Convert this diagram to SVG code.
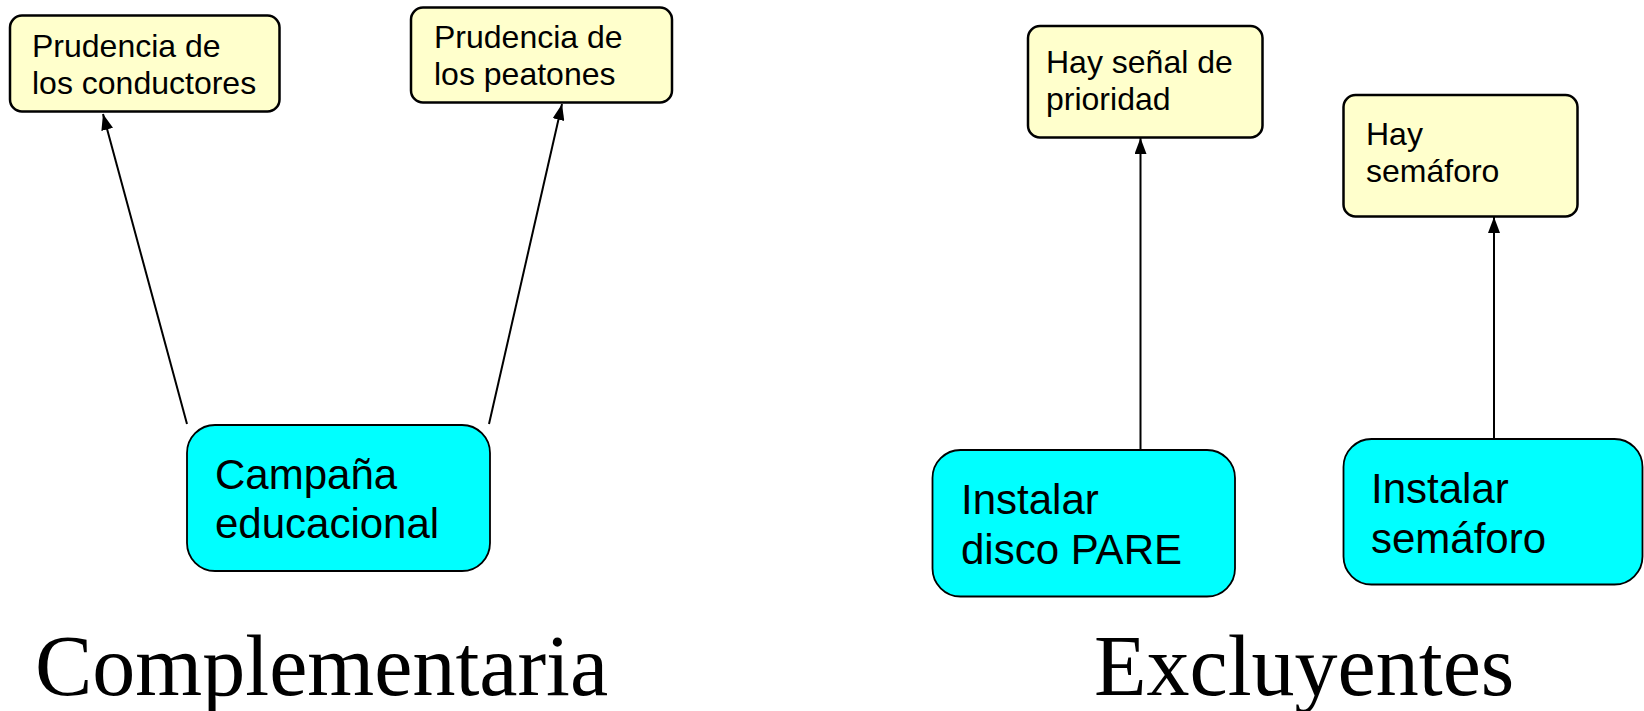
<svg xmlns="http://www.w3.org/2000/svg" width="1644" height="711" viewBox="0 0 1644 711">
<defs>
<style>
.cond{fill:#FFFFCC;stroke:#000;stroke-width:2.5}
.act{fill:#00FFFF;stroke:#000;stroke-width:1.8}
.t1{font-family:"Liberation Sans",Arial,sans-serif;font-size:32px;fill:#000}
.t2{font-family:"Liberation Sans",Arial,sans-serif;font-size:42px;fill:#000}
.title{font-family:"Liberation Serif","Times New Roman",serif;font-size:86px;fill:#000}
.conn{stroke:#000;stroke-width:2;fill:none;marker-end:url(#ah)}
</style>
<marker id="ah" viewBox="0 0 16 12" refX="16" refY="6" markerWidth="16" markerHeight="12" markerUnits="userSpaceOnUse" orient="auto">
<path d="M0,0 L16,6 L0,12 Z" fill="#000"/>
</marker>
</defs>
<rect width="1644" height="711" fill="#fff"/>
<g id="connectors">
<line class="conn" x1="187" y1="424" x2="103" y2="114"/>
<line class="conn" x1="489" y1="424" x2="562" y2="104"/>
<line class="conn" x1="1140.5" y1="450" x2="1140.5" y2="138"/>
<line class="conn" x1="1494" y1="439" x2="1494" y2="217"/>
</g>
<g id="n_conductores">
<rect class="cond" x="10" y="15.5" width="269.5" height="96" rx="12"/>
<text class="t1" x="32" y="57">Prudencia de</text>
<text class="t1" x="32" y="94">los conductores</text>
</g>
<g id="n_peatones">
<rect class="cond" x="411" y="7.5" width="261" height="95" rx="12"/>
<text class="t1" x="434" y="48">Prudencia de</text>
<text class="t1" x="434" y="85">los peatones</text>
</g>
<g id="n_campana">
<rect class="act" x="187" y="425" width="303" height="146" rx="28"/>
<text class="t2" x="215" y="489">Campaña</text>
<text class="t2" x="215" y="538">educacional</text>
</g>
<g id="n_senal">
<rect class="cond" x="1028" y="26" width="234.5" height="111.5" rx="12"/>
<text class="t1" x="1046" y="73">Hay señal de</text>
<text class="t1" x="1046" y="110">prioridad</text>
</g>
<g id="n_hay_semaforo">
<rect class="cond" x="1343.5" y="95" width="234" height="121.5" rx="12"/>
<text class="t1" x="1366" y="145">Hay</text>
<text class="t1" x="1366" y="182">semáforo</text>
</g>
<g id="n_disco">
<rect class="act" x="932.5" y="450" width="302.5" height="146.5" rx="28"/>
<text class="t2" x="961" y="514">Instalar</text>
<text class="t2" x="961" y="564">disco PARE</text>
</g>
<g id="n_instalar_semaforo">
<rect class="act" x="1343.5" y="439" width="299" height="145.5" rx="28"/>
<text class="t2" x="1371" y="503">Instalar</text>
<text class="t2" x="1371" y="553">semáforo</text>
</g>
<text class="title" x="35" y="695">Complementaria</text>
<text class="title" x="1094" y="695">Excluyentes</text>
</svg>
